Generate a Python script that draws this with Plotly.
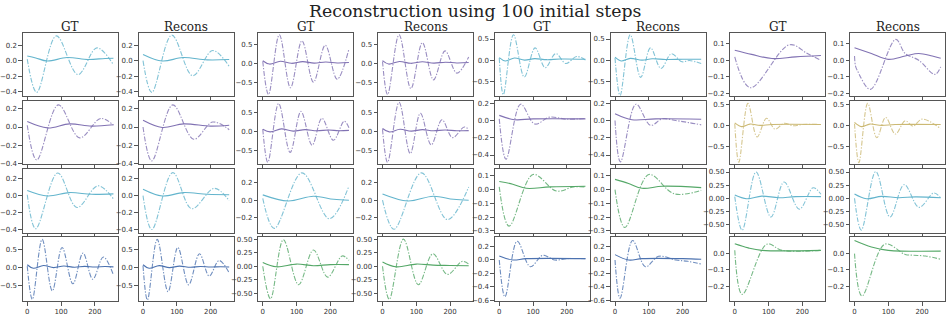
import plotly.graph_objects as go

# ---------------- text ----------------
main_title = "Reconstruction using 100 initial steps"
col_titles = ["GT", "Recons", "GT", "Recons", "GT", "Recons", "GT", "Recons"]
x_tick_vals = [0, 100, 200]
x_tick_text = ["0", "100", "200"]

# ---------------- colours (one per GT/Recons pair) ----------------
CYAN, PURPLE, BLUE, GREEN, YELLOW = "#64B5CD", "#8172B3", "#4C72B0", "#55A868", "#CCB974"
pair_colors = [
    [CYAN, PURPLE, CYAN, PURPLE],
    [PURPLE, PURPLE, PURPLE, YELLOW],
    [CYAN, CYAN, GREEN, CYAN],
    [BLUE, GREEN, BLUE, GREEN],
]
# y limits shared by each GT/Recons pair and their tick step
pair_yrange = [
    [(-0.453, 0.352), (-0.86, 0.795), (-0.844, 0.633), (-0.213, 0.161)],
    [(-0.408, 0.287), (-0.862, 0.792), (-0.503, 0.226), (-0.918, 0.594)],
    [(-0.435, 0.315), (-0.367, 0.356), (-0.312, 0.152), (-0.656, 0.562)],
    [(-0.953, 0.853), (-0.645, 0.531), (-0.615, 0.336), (-0.292, 0.099)],
]
pair_dtick = [
    [0.2, 0.5, 0.5, 0.1],
    [0.2, 0.5, 0.2, 0.5],
    [0.2, 0.2, 0.1, 0.25],
    [0.5, 0.25, 0.2, 0.1],
]

# ---------------- data: (step, value) points ----------------
# Row 1
r1c1_dash = [(0, 0.02), (28, -0.41), (86, 0.32), (150, -0.18), (206, 0.165), (255, -0.055)]
r1c1_solid = [(0, 0.06), (25, 0.035), (59, -0.005), (118, 0.04), (180, 0.015), (230, 0.028), (255, 0.03)]
r1c2_dash = [(0, 0.0), (26, -0.41), (85, 0.33), (147, -0.195), (206, 0.13), (255, -0.075)]
r1c2_solid = [(0, 0.08), (57, -0.005), (118, 0.04), (190, 0.01), (255, 0.015)]
r1c3_dash = [(0, 0.05), (17, -0.83), (49, 0.76), (82, -0.65), (116, 0.6), (150, -0.5), (185, 0.48), (220, -0.42), (255, 0.38)]
r1c3_solid = [(0, 0.07), (20, -0.02), (52, 0.055), (85, 0.0), (118, 0.045), (152, 0.005), (186, 0.035), (220, 0.01), (255, 0.02)]
r1c4_dash = [(0, 0.05), (15, -0.83), (49, 0.76), (84, -0.67), (118, 0.55), (151, -0.44), (185, 0.33), (220, -0.26), (255, 0.17)]
r1c4_solid = [(0, 0.07), (18, -0.02), (50, 0.05), (84, 0.0), (118, 0.04), (152, 0.005), (186, 0.03), (220, 0.01), (255, 0.02)]
r1c5_dash = [(0, 0.05), (12, -0.82), (42, 0.6), (74, -0.4), (106, 0.29), (136, -0.18), (167, 0.155), (197, -0.08), (229, 0.085), (255, 0.0)]
r1c5_solid = [(0, 0.06), (18, -0.02), (45, 0.05), (75, 0.0), (105, 0.035), (140, 0.01), (180, 0.025), (255, 0.02)]
r1c6_dash = [(0, 0.05), (15, -0.84), (45, 0.6), (76, -0.41), (105, 0.29), (136, -0.2), (167, 0.15), (198, -0.04), (220, -0.01), (255, -0.08)]
r1c6_solid = [(0, 0.07), (18, -0.02), (45, 0.04), (80, 0.0), (110, 0.03), (150, 0.015), (200, 0.02), (255, 0.02)]
r1c7_dash = [(0, 0.02), (46, -0.165), (162, 0.093), (215, 0.04), (255, 0.0)]
r1c7_solid = [(0, 0.06), (50, 0.035), (110, 0.01), (180, 0.02), (255, 0.028)]
r1c8_dash = [(0, 0.025), (3, -0.035), (8, -0.06), (47, -0.175), (122, 0.125), (150, 0.04), (190, 0.0), (238, -0.085), (255, -0.04)]
r1c8_solid = [(0, 0.075), (50, 0.04), (100, 0.005), (150, 0.025), (190, 0.04), (230, 0.025), (255, 0.012)]
# Row 2
r2c1_dash = [(0, 0.02), (28, -0.365), (92, 0.245), (155, -0.12), (217, 0.095), (255, 0.02)]
r2c1_solid = [(0, 0.06), (60, -0.01), (125, 0.035), (190, 0.01), (255, 0.025)]
r2c2_dash = [(0, 0.0), (26, -0.375), (88, 0.245), (150, -0.135), (206, 0.055), (255, -0.03)]
r2c2_solid = [(0, 0.075), (57, -0.005), (120, 0.035), (200, 0.01), (255, 0.02)]
r2c3_dash = [(0, 0.05), (15, -0.82), (47, 0.73), (81, -0.56), (113, 0.52), (146, -0.37), (175, 0.34), (209, -0.24), (241, 0.26), (255, 0.09)]
r2c3_solid = [(0, 0.05), (22, -0.02), (55, 0.06), (90, 0.0), (125, 0.04), (160, 0.01), (195, 0.03), (225, 0.01), (255, 0.02)]
r2c4_dash = [(0, 0.05), (15, -0.82), (49, 0.76), (82, -0.59), (112, 0.47), (144, -0.36), (176, 0.3), (207, -0.17), (242, 0.11), (255, 0.04)]
r2c4_solid = [(0, 0.07), (20, -0.02), (52, 0.05), (85, 0.0), (118, 0.04), (150, 0.01), (185, 0.03), (220, 0.01), (255, 0.015)]
r2c5_dash = [(0, 0.02), (20, -0.45), (63, 0.19), (105, -0.04), (149, 0.04), (200, 0.015), (255, 0.025)]
r2c5_solid = [(0, 0.06), (45, 0.01), (100, 0.02), (255, 0.02)]
r2c6_dash = [(0, 0.0), (16, -0.48), (62, 0.19), (105, -0.055), (140, 0.02), (180, 0.0), (220, -0.025), (255, -0.05)]
r2c6_solid = [(0, 0.08), (50, 0.01), (120, 0.02), (255, 0.015)]
r2c7_dash = [(0, 0.05), (12, -0.88), (39, 0.54), (66, -0.27), (94, 0.18), (119, -0.08), (146, 0.06), (173, 0.0), (200, 0.03), (255, 0.03)]
r2c7_solid = [(0, 0.07), (20, -0.02), (45, 0.04), (75, 0.01), (110, 0.03), (255, 0.03)]
r2c8_dash = [(0, 0.05), (13, -0.89), (39, 0.54), (66, -0.29), (92, 0.2), (121, -0.2), (150, 0.12), (173, -0.01), (200, 0.16), (255, -0.07)]
r2c8_solid = [(0, 0.08), (20, -0.02), (45, 0.04), (80, 0.01), (120, 0.03), (255, 0.03)]
# Row 3
r3c1_dash = [(0, 0.01), (25, -0.39), (90, 0.266), (147, -0.14), (209, 0.115), (255, -0.04)]
r3c1_solid = [(0, 0.06), (60, -0.005), (125, 0.035), (190, 0.015), (255, 0.02)]
r3c2_dash = [(0, 0.0), (26, -0.4), (88, 0.27), (144, -0.155), (211, 0.085), (255, -0.06)]
r3c2_solid = [(0, 0.075), (57, -0.005), (120, 0.035), (190, 0.015), (255, 0.01)]
r3c3_dash = [(0, 0.02), (34, -0.32), (116, 0.31), (197, -0.21), (255, 0.16)]
r3c3_solid = [(0, 0.06), (75, -0.01), (150, 0.045), (210, 0.01), (255, 0.0)]
r3c4_dash = [(0, 0.0), (34, -0.33), (115, 0.31), (192, -0.22), (255, 0.15)]
r3c4_solid = [(0, 0.07), (75, -0.01), (150, 0.045), (210, 0.01), (255, 0.0)]
r3c5_dash = [(0, 0.02), (29, -0.265), (100, 0.11), (169, -0.01), (220, 0.02), (255, 0.02)]
r3c5_solid = [(0, 0.06), (40, 0.04), (80, 0.01), (150, 0.02), (255, 0.025)]
r3c6_dash = [(0, 0.0), (29, -0.275), (100, 0.11), (175, -0.03), (255, -0.005)]
r3c6_solid = [(0, 0.075), (40, 0.045), (80, 0.01), (140, 0.025), (255, 0.015)]
r3c7_dash = [(0, 0.03), (22, -0.61), (63, 0.5), (107, -0.36), (146, 0.31), (191, -0.21), (232, 0.2), (255, 0.075)]
r3c7_solid = [(0, 0.06), (35, -0.01), (80, 0.04), (130, 0.01), (180, 0.03), (255, 0.03)]
r3c8_dash = [(0, 0.0), (20, -0.61), (63, 0.51), (105, -0.36), (147, 0.26), (191, -0.175), (235, 0.1), (255, 0.0)]
r3c8_solid = [(0, 0.08), (35, -0.01), (80, 0.035), (130, 0.01), (180, 0.025), (255, 0.01)]
# Row 4
r4c1_dash = [(0, 0.04), (15, -0.9), (44, 0.8), (74, -0.66), (103, 0.57), (135, -0.46), (165, 0.41), (194, -0.33), (225, 0.3), (255, -0.21)]
r4c1_solid = [(0, 0.08), (18, -0.02), (48, 0.06), (78, 0.0), (108, 0.045), (140, 0.01), (170, 0.035), (200, 0.015), (230, 0.03), (255, 0.02)]
r4c2_dash = [(0, 0.05), (13, -0.92), (42, 0.8), (74, -0.68), (103, 0.57), (135, -0.49), (167, 0.39), (196, -0.24), (225, 0.2), (255, -0.15)]
r4c2_solid = [(0, 0.08), (18, -0.02), (48, 0.055), (78, 0.0), (108, 0.04), (140, 0.01), (170, 0.03), (200, 0.015), (230, 0.025), (255, 0.015)]
r4c3_dash = [(0, 0.0), (23, -0.6), (61, 0.49), (106, -0.34), (150, 0.3), (192, -0.2), (235, 0.19), (255, 0.11)]
r4c3_solid = [(0, 0.07), (40, -0.01), (100, 0.04), (150, 0.01), (200, 0.03), (255, 0.03)]
r4c4_dash = [(0, 0.0), (20, -0.61), (62, 0.5), (106, -0.34), (149, 0.23), (192, -0.15), (236, 0.09), (255, 0.04)]
r4c4_solid = [(0, 0.08), (40, -0.01), (100, 0.04), (150, 0.02), (200, 0.015), (255, 0.01)]
r4c5_dash = [(0, 0.0), (17, -0.55), (53, 0.28), (92, -0.1), (129, 0.07), (164, 0.0), (200, 0.02), (255, 0.02)]
r4c5_solid = [(0, 0.06), (40, 0.0), (80, 0.02), (255, 0.02)]
r4c6_dash = [(0, 0.0), (15, -0.57), (52, 0.29), (90, -0.1), (129, 0.055), (180, 0.0), (215, -0.02), (255, -0.06)]
r4c6_solid = [(0, 0.08), (40, 0.0), (80, 0.02), (200, 0.02), (255, 0.01)]
r4c7_dash = [(0, 0.02), (22, -0.25), (95, 0.058), (140, 0.02), (255, 0.02)]
r4c7_solid = [(0, 0.06), (40, 0.035), (80, 0.02), (255, 0.02)]
r4c8_dash = [(0, 0.0), (22, -0.26), (90, 0.058), (150, -0.005), (175, -0.01), (210, -0.015), (255, -0.035)]
r4c8_solid = [(0, 0.08), (50, 0.04), (100, 0.02), (255, 0.015)]

curves = [
    [(r1c1_dash, r1c1_solid), (r1c2_dash, r1c2_solid), (r1c3_dash, r1c3_solid), (r1c4_dash, r1c4_solid),
     (r1c5_dash, r1c5_solid), (r1c6_dash, r1c6_solid), (r1c7_dash, r1c7_solid), (r1c8_dash, r1c8_solid)],
    [(r2c1_dash, r2c1_solid), (r2c2_dash, r2c2_solid), (r2c3_dash, r2c3_solid), (r2c4_dash, r2c4_solid),
     (r2c5_dash, r2c5_solid), (r2c6_dash, r2c6_solid), (r2c7_dash, r2c7_solid), (r2c8_dash, r2c8_solid)],
    [(r3c1_dash, r3c1_solid), (r3c2_dash, r3c2_solid), (r3c3_dash, r3c3_solid), (r3c4_dash, r3c4_solid),
     (r3c5_dash, r3c5_solid), (r3c6_dash, r3c6_solid), (r3c7_dash, r3c7_solid), (r3c8_dash, r3c8_solid)],
    [(r4c1_dash, r4c1_solid), (r4c2_dash, r4c2_solid), (r4c3_dash, r4c3_solid), (r4c4_dash, r4c4_solid),
     (r4c5_dash, r4c5_solid), (r4c6_dash, r4c6_solid), (r4c7_dash, r4c7_solid), (r4c8_dash, r4c8_solid)],
]

# ---------------- layout geometry (pixels) ----------------
W, H = 947, 317
col_left = [21, 137, 257, 377, 494, 610, 730, 850]
col_w = 95
row_top = [32, 101, 170, 240]
row_bot = [95.5, 165, 235, 305]
X_RANGE = [-12.75, 267.75]
FRAME = "#555555"
TICKFONT = dict(family="DejaVu Sans", size=7, color="#333333")

fig = go.Figure()
layout = dict(
    width=W, height=H, margin=dict(l=0, r=0, t=0, b=0),
    paper_bgcolor="white", plot_bgcolor="white", showlegend=False,
)
annotations = []

for r in range(4):
    for c in range(8):
        n = r * 8 + c + 1
        sfx = "" if n == 1 else str(n)
        color = pair_colors[r][c // 2]
        dash, solid = curves[r][c]
        fig.add_trace(go.Scatter(
            x=[p[0] for p in solid], y=[p[1] for p in solid],
            xaxis="x" + sfx, yaxis="y" + sfx, mode="lines", hoverinfo="skip",
            line=dict(color=color, width=1.1, shape="spline", smoothing=1.0)))
        fig.add_trace(go.Scatter(
            x=[p[0] for p in dash], y=[p[1] for p in dash],
            xaxis="x" + sfx, yaxis="y" + sfx, mode="lines", hoverinfo="skip", opacity=0.8,
            line=dict(color=color, width=1.1, shape="spline", smoothing=1.0,
                      dash="5px,1.6px,1.3px,1.6px")))
        dt = pair_dtick[r][c // 2]
        layout["xaxis" + sfx] = dict(
            domain=[col_left[c] / W, (col_left[c] + col_w) / W], anchor="y" + sfx,
            range=X_RANGE, tickmode="array", tickvals=x_tick_vals, ticktext=x_tick_text,
            showticklabels=(r == 3), ticks="outside", ticklen=3.5, tickwidth=1, tickcolor=FRAME,
            showline=True, mirror=True, linecolor=FRAME, linewidth=1.2,
            showgrid=False, zeroline=False, tickfont=TICKFONT)
        layout["yaxis" + sfx] = dict(
            domain=[1 - row_bot[r] / H, 1 - row_top[r] / H], anchor="x" + sfx,
            range=list(pair_yrange[r][c // 2]), tick0=0, dtick=dt,
            tickformat=".2f" if dt == 0.25 else ".1f",
            ticks="outside", ticklen=3.5, tickwidth=1, tickcolor=FRAME,
            showline=True, mirror=True, linecolor=FRAME, linewidth=1.2,
            showgrid=False, zeroline=False, tickfont=TICKFONT)
        if r == 0:
            annotations.append(dict(
                text=col_titles[c], xref="paper", yref="paper",
                x=(col_left[c] + col_w / 2) / W, y=1 - 25.5 / H,
                xanchor="center", yanchor="middle", showarrow=False,
                font=dict(family="DejaVu Serif", size=12, color="#222222")))

annotations.append(dict(
    text=main_title, xref="paper", yref="paper", x=0.5, y=1 - 9.5 / H,
    xanchor="center", yanchor="middle", showarrow=False,
    font=dict(family="DejaVu Serif", size=17.3, color="#222222")))
layout["annotations"] = annotations
fig.update_layout(**layout)
fig.write_html("out.html", config={"displayModeBar": False},
               post_script="document.body.style.margin='0';document.body.style.padding='0';")
